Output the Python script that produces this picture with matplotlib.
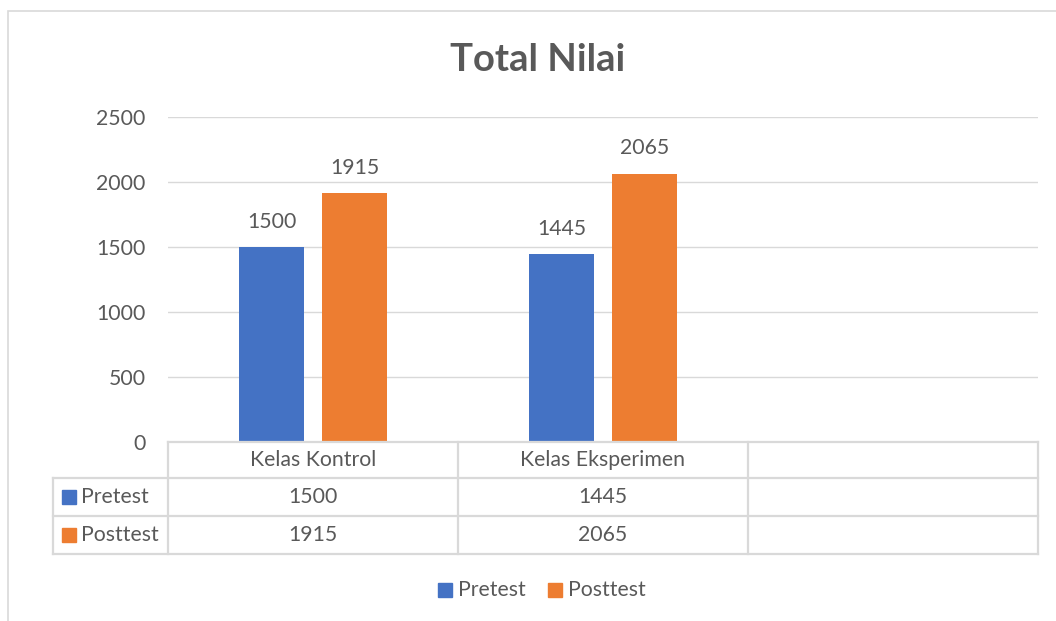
import matplotlib
matplotlib.use("Agg")
import matplotlib.pyplot as plt
from matplotlib.patches import Rectangle
from matplotlib.lines import Line2D

categories = ["Kelas Kontrol", "Kelas Eksperimen", ""]
series_names = ["Pretest", "Posttest"]
pretest = [1500, 1445]
posttest = [1915, 2065]
yticks = [0, 500, 1000, 1500, 2000, 2500]

colors = ["#4472C4", "#ED7D31"]
txt = "#595959"
grid = "#D9D9D9"
plt.rcParams["font.family"] = ["Lato", "DejaVu Sans"]
FS = 15.3

W, H = 1056, 621
fig = plt.figure(figsize=(W / 100, H / 100), dpi=100)

def fx(px):
    return px / W

def fy(py):
    return 1 - py / H

# outer chart border (cropped on right/bottom)
fig.add_artist(Rectangle((fx(8), fy(700)), fx(1200), fy(11) - fy(700),
                         transform=fig.transFigure, fill=False,
                         edgecolor="#D9D9D9", linewidth=1.2))

L, R, T, B = 168, 1038, 117, 442
ax = fig.add_axes([fx(L), fy(B), fx(R) - fx(L), fy(T) - fy(B)])
ncat = len(categories)
ax.set_xlim(-0.5, ncat - 0.5)
ax.set_ylim(0, 2500)
ax.set_yticks(yticks)
ax.set_yticklabels([str(v) for v in yticks], color=txt, fontsize=FS)
ax.tick_params(axis="y", length=0, pad=16)
ax.set_xticks([])
for s in ax.spines.values():
    s.set_visible(False)
ax.grid(axis="y", color=grid, linewidth=1)
ax.set_axisbelow(True)

bw = 65 / 290
off = 41.5 / 290
xs = list(range(len(pretest)))
for vals, sgn, c in [(pretest, -1, colors[0]), (posttest, 1, colors[1])]:
    pos = [x + sgn * off for x in xs]
    bars = ax.bar(pos, vals, width=bw, color=c, zorder=3)
    for b, v in zip(bars, vals):
        ax.annotate(str(v), (b.get_x() + b.get_width() / 2, v),
                    xytext=(0, 11), textcoords="offset points",
                    ha="center", va="bottom", color=txt, fontsize=FS)

fig.text(fx(538), fy(60), "Total Nilai", ha="center", va="center",
         fontsize=27.5, fontweight="bold", color=txt)

# data table
tcol = "#D9D9D9"
rows_y = [442, 478, 516, 554]
col_x = [53, 168, 458, 748, 1038]
lw = 1.6
fig.add_artist(Line2D([fx(168), fx(1038)], [fy(442), fy(442)], color=tcol, lw=lw))
for yy in rows_y[1:]:
    fig.add_artist(Line2D([fx(53), fx(1038)], [fy(yy), fy(yy)], color=tcol, lw=lw))
fig.add_artist(Line2D([fx(53), fx(53)], [fy(478), fy(554)], color=tcol, lw=lw))
for xx in col_x[1:]:
    fig.add_artist(Line2D([fx(xx), fx(xx)], [fy(442), fy(554)], color=tcol, lw=lw))

all_vals = [pretest, posttest]
for i, cat in enumerate(categories):
    cx = (col_x[i + 1] + col_x[i + 2]) / 2
    fig.text(fx(cx), fy(460), cat, ha="center", va="center", color=txt, fontsize=FS)
    for r, vals in enumerate(all_vals):
        if i < len(vals):
            fig.text(fx(cx), fy((rows_y[r + 1] + rows_y[r + 2]) / 2), str(vals[i]),
                     ha="center", va="center", color=txt, fontsize=FS)

for r, name in enumerate(series_names):
    cy = (rows_y[r + 1] + rows_y[r + 2]) / 2
    fig.add_artist(Rectangle((fx(62), fy(cy + 7)), fx(14), fy(cy - 7) - fy(cy + 7),
                             transform=fig.transFigure, color=colors[r]))
    fig.text(fx(81), fy(cy), name, ha="left", va="center", color=txt, fontsize=FS)

# legend
leg_items = [(438, series_names[0], colors[0]), (548, series_names[1], colors[1])]
ly = 590
for x0, name, c in leg_items:
    fig.add_artist(Rectangle((fx(x0), fy(ly + 7)), fx(14), fy(ly - 7) - fy(ly + 7),
                             transform=fig.transFigure, color=c))
    fig.text(fx(x0 + 20), fy(ly), name, ha="left", va="center", color=txt, fontsize=FS)

fig.savefig("out.png", dpi=100)
